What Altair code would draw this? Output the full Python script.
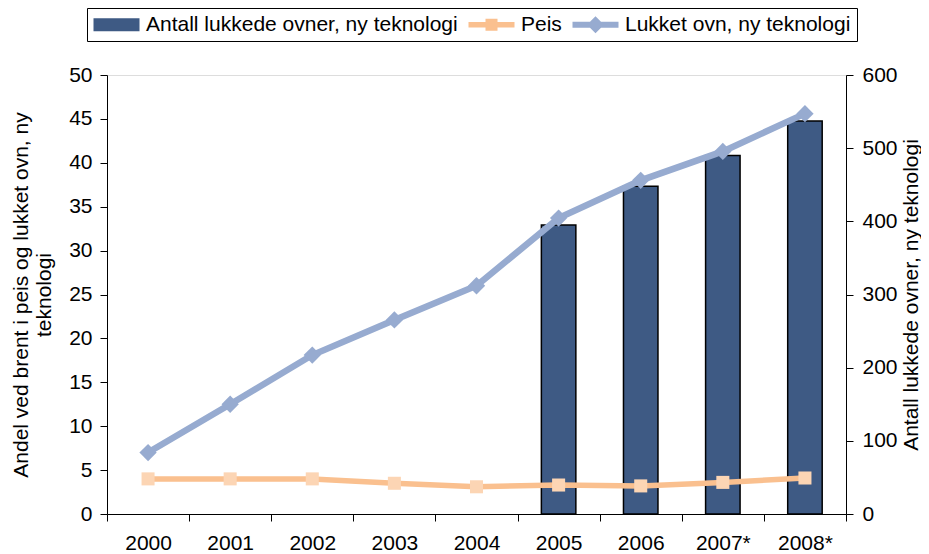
import altair as alt
import pandas as pd

# ---- data ----
years = ["2000", "2001", "2002", "2003", "2004", "2005", "2006", "2007*", "2008*"]
lukket = [7.0, 12.5, 18.1, 22.1, 26.0, 33.7, 38.0, 41.3, 45.6]
peis = [4.0, 4.0, 4.0, 3.5, 3.1, 3.3, 3.2, 3.6, 4.1]
bar_years = ["2005", "2006", "2007*", "2008*"]
bar_values = [395, 448, 490, 537]

BAR_NAME = "Antall lukkede ovner, ny teknologi"
PEIS_NAME = "Peis"
LUKKET_NAME = "Lukket ovn, ny teknologi"
series_names = [BAR_NAME, PEIS_NAME, LUKKET_NAME]

left_ticks = list(range(0, 51, 5))
right_ticks = list(range(0, 601, 100))

BAR_COLOR = "#3E5A84"
PEIS_LINE = "#FAC08F"
PEIS_MARK = "#FCD5B4"
LUKKET_COLOR = "#97ABD0"
FONT = "Liberation Sans"
FS = 21

# legend symbol paths (r = 10px per unit; spans x -1..3.6, i.e. ~46px)
SYM_BAR = "M-1,-0.65H3.6V0.65H-1Z"
SYM_PEIS = "M-1,-0.27H3.6V0.27H-1Z M0.7,-0.6H1.9V0.6H0.7Z"
SYM_LUKKET = "M-1,-0.3H3.6V0.3H-1Z M1.3,-0.85L2.15,0L1.3,0.85L0.45,0Z"

df_lines = pd.DataFrame({"year": years, "peis": peis, "lukket": lukket})
df_bar = pd.DataFrame({"year": bar_years, "antall": bar_values, "series": BAR_NAME})

x_enc = alt.X(
    "year:N",
    sort=years,
    scale=alt.Scale(domain=years, paddingInner=0, paddingOuter=0),
    axis=alt.Axis(
        title=None, labelAngle=0, tickBand="extent", ticks=True, tickSize=7,
        labelPadding=11, labelFontSize=FS, labelFont=FONT, labelColor="black",
        domainColor="black", tickColor="black", grid=False,
    ),
)

left_scale = alt.Scale(domain=[0, 50], nice=False, zero=True)
left_axis = alt.Axis(
    values=left_ticks, orient="left", grid=False, tickSize=7, labelPadding=8,
    labelFontSize=FS, labelFont=FONT, labelColor="black",
    domainColor="black", tickColor="black",
    title=["Andel ved brent i peis og lukket ovn, ny", "teknologi"],
    titleFont=FONT, titleFontSize=FS, titleFontWeight="normal", titleColor="black",
    titlePadding=14, titleLineHeight=23,
)

right_scale = alt.Scale(domain=[0, 600], nice=False)
right_axis = alt.Axis(
    values=right_ticks, orient="right", grid=False, tickSize=7, labelPadding=9,
    labelFontSize=FS, labelFont=FONT, labelColor="black",
    domainColor="black", tickColor="black",
    title="Antall lukkede ovner, ny teknologi", titleAngle=270, titleBaseline="top",
    titleFont=FONT, titleFontSize=FS, titleFontWeight="normal",
    titleColor="black", titlePadding=3,
)

bars = alt.Chart(df_bar).mark_bar(
    width=alt.RelativeBandSize(0.42), stroke="black", strokeWidth=1.5, color=BAR_COLOR
).encode(
    x=x_enc,
    y=alt.Y("antall:Q", scale=right_scale, axis=right_axis),
)

legend_props = dict(
    title=None, orient="none", direction="horizontal",
    legendX=-20, legendY=-67,
    symbolSize=400, symbolOpacity=1, symbolStrokeWidth=0,
    labelFont=FONT, labelFontSize=FS, labelColor="black",
    labelOffset=32, columnPadding=10, labelLimit=500,
    strokeColor="black", fillColor="white", padding=6,
)

# invisible carrier of the legend (same bar data, opacity 0)
legend_carrier = alt.Chart(df_bar).mark_point(filled=True, opacity=0).encode(
    x=x_enc,
    y=alt.Y("antall:Q", scale=right_scale, axis=right_axis),
    color=alt.Color(
        "series:N",
        scale=alt.Scale(domain=series_names, range=[BAR_COLOR, PEIS_LINE, LUKKET_COLOR]),
        legend=alt.Legend(**legend_props),
    ),
    shape=alt.Shape(
        "series:N",
        scale=alt.Scale(domain=series_names, range=[SYM_BAR, SYM_PEIS, SYM_LUKKET]),
        legend=alt.Legend(**legend_props),
    ),
)

base = alt.Chart(df_lines)
peis_line = base.mark_line(color=PEIS_LINE, strokeWidth=5.5).encode(
    x=x_enc, y=alt.Y("peis:Q", scale=left_scale, axis=left_axis)
)
peis_pts = base.mark_point(shape="square", filled=True, color=PEIS_MARK, size=170, opacity=1).encode(
    x=x_enc, y=alt.Y("peis:Q", scale=left_scale, axis=left_axis)
)
lukket_line = base.mark_line(color=LUKKET_COLOR, strokeWidth=6.5).encode(
    x=x_enc, y=alt.Y("lukket:Q", scale=left_scale, axis=left_axis)
)
lukket_pts = base.mark_point(shape="diamond", filled=True, color=LUKKET_COLOR, size=300, opacity=1).encode(
    x=x_enc, y=alt.Y("lukket:Q", scale=left_scale, axis=left_axis)
)

right_group = alt.layer(bars, legend_carrier)
lines = alt.layer(peis_line, peis_pts, lukket_line, lukket_pts)

chart = alt.layer(right_group, lines).resolve_scale(y="independent").properties(
    width=739,
    height=439,
    autosize=alt.AutoSizeParams(type="none"),
    padding={"left": 99, "top": 67, "right": 75, "bottom": 38},
).configure_view(
    stroke="black", strokeWidth=1
).configure(background="white")

chart.save("out.html", embed_options={"renderer": "svg", "actions": False})
